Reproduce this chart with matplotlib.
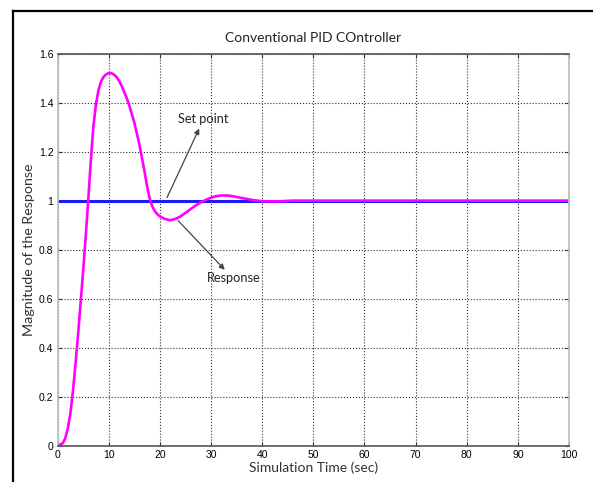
# -*- coding: utf-8 -*-

import matplotlib
matplotlib.use('Agg')
import matplotlib.pyplot as plt
from matplotlib.lines import Line2D

# values
time_sec = [0, 1, 1.5, 2, 2.5, 3, 3.5, 4, 4.5, 5, 5.5, 6, 6.5, 7, 7.5, 8, 8.5, 9,
            9.5, 10, 10.5, 11, 11.5, 12, 12.5, 13, 13.5, 14, 15, 16, 17, 17.5, 18,
            18.5, 19, 19.5, 20, 21, 22, 23, 24, 25, 26, 27, 28, 29, 30, 31, 32, 33,
            34, 35, 36, 37, 38, 39, 40, 41, 42, 43, 44, 45, 46, 50, 100]
response = [0.0, 0.01, 0.03, 0.07, 0.13, 0.22, 0.33, 0.45, 0.58, 0.71, 0.85, 1.0,
            1.16, 1.30, 1.39, 1.45, 1.485, 1.505, 1.515, 1.52, 1.52, 1.515, 1.505,
            1.49, 1.47, 1.445, 1.42, 1.39, 1.32, 1.23, 1.12, 1.06, 1.01, 0.978,
            0.958, 0.945, 0.936, 0.925, 0.92, 0.925, 0.935, 0.95, 0.965, 0.98,
            0.993, 1.003, 1.012, 1.018, 1.021, 1.021, 1.019, 1.015, 1.011, 1.007,
            1.003, 1.0, 0.998, 0.997, 0.997, 0.997, 0.998, 0.999, 1.0, 1.0, 1.0]
setpoint_t = [0, 100]
setpoint = [1.0, 1.0]

x_ticks = [0, 10, 20, 30, 40, 50, 60, 70, 80, 90, 100]
y_ticks = [0, 0.2, 0.4, 0.6, 0.8, 1.0, 1.2, 1.4, 1.6]
y_tick_labels = ['0', '0.2', '0.4', '0.6', '0.8', '1', '1.2', '1.4', '1.6']

LABEL_FONT = ['Lato', 'DejaVu Sans']
TICK_FONT = ['Liberation Sans', 'DejaVu Sans']

fig = plt.figure(figsize=(5.93, 4.82), dpi=100)
ax = fig.add_axes([0.097, 0.075, 0.8625, 0.814])

ax.plot(setpoint_t, setpoint, color='#1a1aff', linewidth=2.2)
ax.plot(time_sec, response, color='#ff00ff', linewidth=1.9)

ax.set_xlim(0, 100)
ax.set_ylim(0, 1.6)
ax.set_xticks(x_ticks)
ax.set_yticks(y_ticks)
ax.set_yticklabels(y_tick_labels)
for lbl in ax.get_xticklabels() + ax.get_yticklabels():
    lbl.set_family(TICK_FONT)
    lbl.set_fontsize(7.5)
ax.tick_params(direction='in', length=3, width=0.8, top=True, right=True,
               color='#333333', pad=3)

ax.grid(True, linestyle=':', color='#333333', linewidth=0.8)
ax.spines['top'].set_color('#555555')
ax.spines['bottom'].set_color('#555555')
ax.spines['left'].set_color('#bbbbbb')
ax.spines['right'].set_color('#bbbbbb')
for s in ax.spines.values():
    s.set_linewidth(1.2)

ax.set_title('Conventional PID COntroller', family=LABEL_FONT, fontsize=10,
             color='#222222', pad=8)
ax.set_xlabel('Simulation Time (sec)', family=LABEL_FONT, fontsize=10,
              color='#333333', labelpad=1)
ax.set_ylabel('Magnitude of the Response', family=LABEL_FONT, fontsize=10.3,
              color='#333333', labelpad=3)

arrow = dict(arrowstyle='-|>', color='#444444', lw=0.9, mutation_scale=8,
             shrinkA=0, shrinkB=0)
ax.annotate('', xy=(27.7, 1.294), xytext=(21.4, 1.012), arrowprops=arrow)
ax.text(28.4, 1.331, 'Set point', family=LABEL_FONT, fontsize=9.2,
        ha='center', va='center', color='#222222')
ax.annotate('', xy=(32.7, 0.718), xytext=(23.6, 0.918), arrowprops=arrow)
ax.text(34.5, 0.686, 'Response', family=LABEL_FONT, fontsize=9.2,
        ha='center', va='center', color='#222222')

# frame around the figure (left and top)
fig.add_artist(Line2D([12.5 / 593, 12.5 / 593], [0, 1 - 11 / 482],
                      color='black', linewidth=1.6))
fig.add_artist(Line2D([12.5 / 593, 1], [1 - 11 / 482, 1 - 11 / 482],
                      color='black', linewidth=1.6))

fig.savefig('out.png', dpi=100)
